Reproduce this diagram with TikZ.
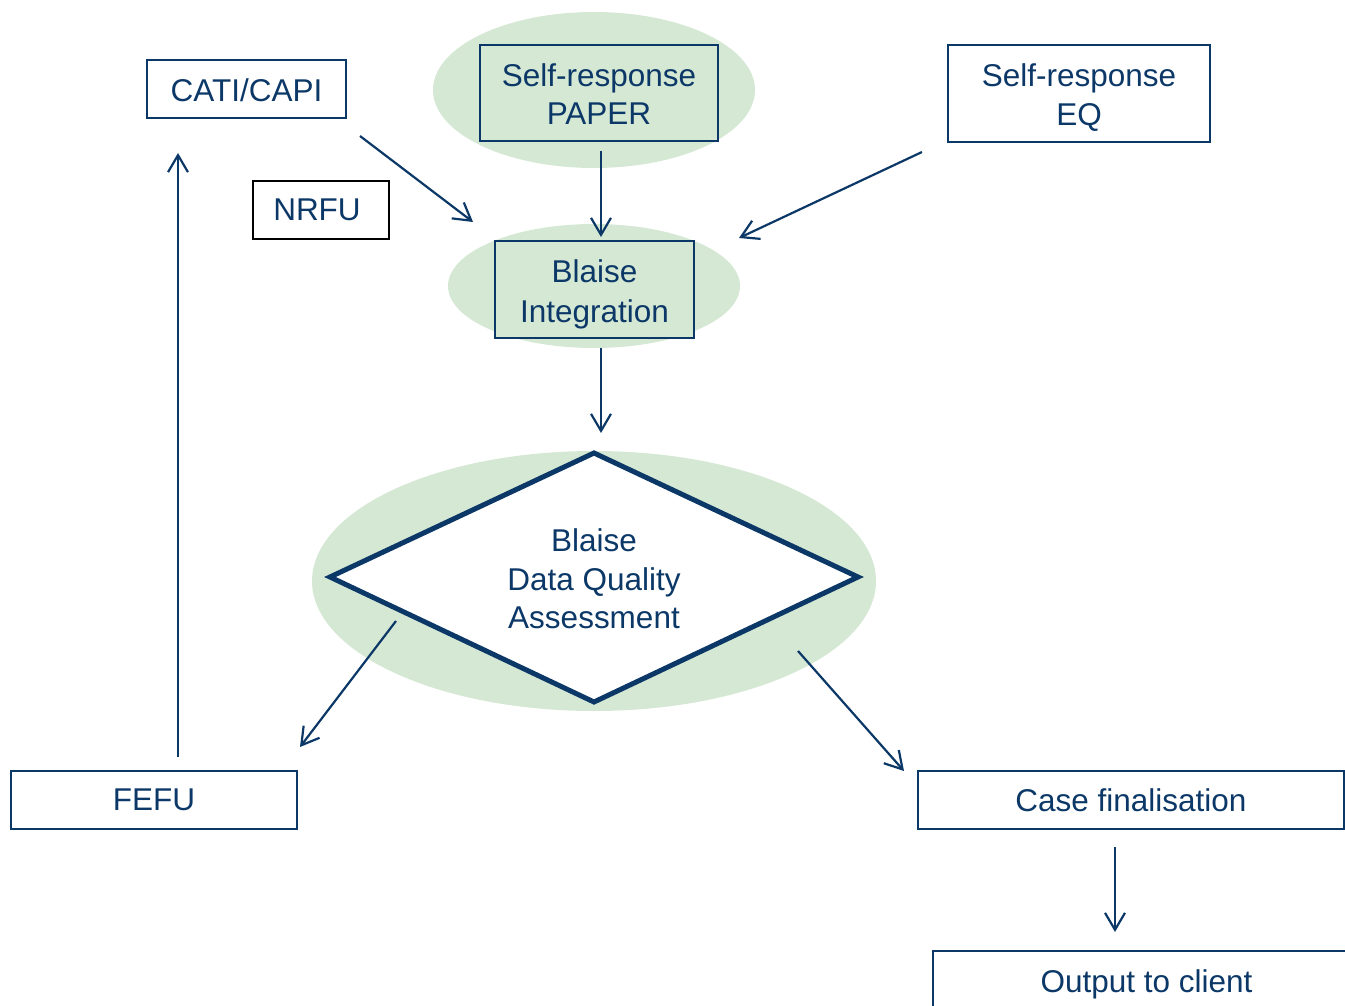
\documentclass[tikz,border=0pt]{standalone}
\usepackage{fontspec}
\setmainfont{Liberation Sans}
\usetikzlibrary{arrows.meta}
\definecolor{dblue}{RGB}{12,56,104}
\definecolor{lgreen}{RGB}{213,232,212}
\newcommand{\twoline}[3]{\raisebox{#1}[\height][\depth]{\begin{tabular}{@{}c@{}}#2\\#3\end{tabular}}}
\begin{document}
\begin{tikzpicture}[x=1pt,y=-1pt,
  box/.style={draw=dblue, line width=2pt, text=dblue, inner sep=0pt, align=center,
    font=\fontsize{31.5}{38.5}\selectfont},
  arr/.style={draw=dblue, line width=2.2pt, -{Straight Barb[length=17pt,width=20pt]}},
  blob/.style={fill=lgreen}]
\useasboundingbox (0,0) rectangle (1345,1006);
% green backgrounds
\fill[blob] (594,90) ellipse [x radius=161pt, y radius=78pt];
\fill[blob] (594,286) ellipse [x radius=146pt, y radius=62pt];
\fill[blob] (594,581) ellipse [x radius=282pt, y radius=130pt];
% boxes
\node[box, minimum width=199pt, minimum height=58pt] (cati) at (246.5,89) {\raisebox{-1pt}[\height][\depth]{CATI/CAPI}};
\node[box, draw=black, minimum width=136pt, minimum height=58pt] (nrfu) at (321,210) {\kern-8pt NRFU};
\node[box, fill=lgreen, minimum width=238pt, minimum height=96pt] (paper) at (599,93) {\twoline{-5pt}{Self-response}{PAPER}};
\node[box, minimum width=262pt, minimum height=97pt] (eq) at (1079,93.5) {\twoline{-5pt}{Self-response}{EQ}};
\node[box, fill=lgreen, minimum width=199pt, minimum height=97pt] (integ) at (594.5,289.5) {\renewcommand{\arraystretch}{1.04}\twoline{-5pt}{Blaise}{Integration}};
% diamond
\draw[dblue, line width=5pt, fill=white] (330,577) -- (594,453) -- (858,577) -- (594,702) -- cycle;
\node[text=dblue, align=center, inner sep=0pt, font=\fontsize{31.5}{38.5}\selectfont] (dqa) at (594,579) {Blaise\\Data Quality\\Assessment};
\node[box, minimum width=286pt, minimum height=58pt] (fefu) at (154,800) {FEFU};
\node[box, minimum width=426pt, minimum height=58pt] (case) at (1131,800) {Case finalisation};
\begin{scope}
\clip (0,0) rectangle (1345,1006);
\node[box, minimum width=427pt, minimum height=58pt] (out) at (1146.5,980) {\raisebox{-4pt}[\height][\depth]{Output to client}};
\end{scope}
% connector end points
\coordinate (c1s) at (360,136); \coordinate (c1e) at (473,222);
\coordinate (c2s) at (601,151); \coordinate (c2e) at (601,237);
\coordinate (c3s) at (922,152); \coordinate (c3e) at (739,238);
\coordinate (c4s) at (601,348); \coordinate (c4e) at (601,433);
\coordinate (c5s) at (396,621); \coordinate (c5e) at (300,747);
\coordinate (c6s) at (798,651); \coordinate (c6e) at (904,771);
\coordinate (c7s) at (178,757); \coordinate (c7e) at (178,153);
\coordinate (c8s) at (1115,847); \coordinate (c8e) at (1115,932);
\draw[arr] (c1s) -- (c1e);
\draw[arr] (c2s) -- (c2e);
\draw[arr] (c3s) -- (c3e);
\draw[arr] (c4s) -- (c4e);
\draw[arr] (c5s) -- (c5e);
\draw[arr] (c6s) -- (c6e);
\draw[arr] (c7s) -- (c7e);
\draw[arr] (c8s) -- (c8e);
\end{tikzpicture}
\end{document}
